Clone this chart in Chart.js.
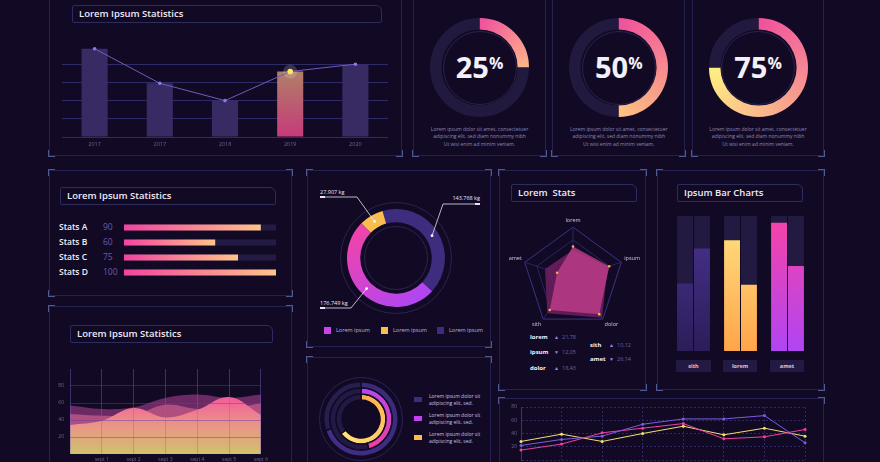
<!DOCTYPE html>
<html lang="en">
<head>
<meta charset="UTF-8">
<script src="https://cdn.jsdelivr.net/npm/chart.js"></script>
<title>Lorem Ipsum Dashboard</title>
<style>
  * { margin: 0; padding: 0; box-sizing: border-box; }
  body { width: 880px; height: 462px; overflow: hidden; position: relative; background: #120a25; font-family: "Open Sans", sans-serif; color: #ece9f7; }
  .panel { position: absolute; border: 1px solid #25214e; }
  .panel i { position: absolute; width: 7px; height: 7px; border: 0 solid #4e5b92; }
  .panel i.a { left: -2px; top: -2px; border-left-width: 1.5px; border-top-width: 1.5px; }
  .panel i.b { right: -2px; top: -2px; border-right-width: 1.5px; border-top-width: 1.5px; }
  .panel i.c { left: -2px; bottom: -2px; border-left-width: 1.5px; border-bottom-width: 1.5px; }
  .panel i.d { right: -2px; bottom: -2px; border-right-width: 1.5px; border-bottom-width: 1.5px; }
  .title { position: absolute; height: 18px; border: 1px solid #2e2b5e; border-radius: 2px 6px 2px 2px; font-size: 9.5px; font-weight: 600; line-height: 16px; padding-left: 6px; white-space: pre; color: #eeebf8; }
  .pct { position: absolute; width: 100px; text-align: center; font-size: 29px; font-weight: 700; line-height: 40px; color: #f2f0f8; }
  .pct span { font-size: 16px; position: relative; top: -9px; }
  .desc { position: absolute; width: 120px; text-align: center; font-size: 5px; line-height: 7.5px; color: #8f87b6; }
  .ring { position: absolute; border-radius: 50%; border: 1px solid #29234f; }
  .name { position: absolute; font-size: 8.5px; font-weight: 600; line-height: 12px; color: #f0eef8; }
  .num { position: absolute; font-size: 8.5px; line-height: 12px; color: #6a5ca8; }
  .sq { position: absolute; width: 7px; height: 7px; }
  .lab { position: absolute; font-size: 5.5px; line-height: 7px; color: #bcb4dc; white-space: nowrap; }
  .kg { position: absolute; font-size: 5.5px; line-height: 7px; color: #ebe8f5; white-space: nowrap; }
  .rs { position: absolute; font-size: 6px; line-height: 8px; white-space: nowrap; }
  .rs b { color: #f2f0f8; font-weight: 700; }
  .rs em { font-style: normal; color: #9d86ec; font-size: 5px; }
  .rs span { color: #6d60a8; font-size: 5.5px; }
  .cat { position: absolute; height: 12px; background: #221a42; font-size: 5.5px; font-weight: 700; line-height: 12px; text-align: center; color: #d0cae6; }
</style>
</head>
<body>
  <!-- panels -->
  <div class="panel" style="left:49px;top:-10px;width:353px;height:166px"></div>
  <div class="panel" style="left:413px;top:-10px;width:133px;height:166px"></div>
  <div class="panel" style="left:552px;top:-10px;width:133px;height:166px"></div>
  <div class="panel" style="left:692px;top:-10px;width:132px;height:166px"></div>
  <div class="panel" style="left:49px;top:170px;width:243px;height:126px"></div>
  <div class="panel" style="left:307px;top:170px;width:184px;height:177px"></div>
  <div class="panel" style="left:499px;top:170px;width:147px;height:220px"></div>
  <div class="panel" style="left:657px;top:170px;width:167px;height:220px"></div>
  <div class="panel" style="left:49px;top:306px;width:243px;height:170px"></div>
  <div class="panel" style="left:307px;top:357px;width:184px;height:120px"></div>
  <div class="panel" style="left:499px;top:398px;width:325px;height:80px"></div>

  <div class="title" style="left:72px;top:5px;width:310px">Lorem Ipsum Statistics</div>
  <div class="title" style="left:60px;top:187px;width:216px">Lorem Ipsum Statistics</div>
  <div class="title" style="left:511px;top:184px;width:126px">Lorem  Stats</div>
  <div class="title" style="left:677px;top:184px;width:126px">Ipsum Bar Charts</div>
  <div class="title" style="left:70px;top:325px;width:203px">Lorem Ipsum Statistics</div>

  <!-- gauges -->
  <div class="ring" style="left:442.5px;top:30.5px;width:74px;height:74px"></div>
  <div class="ring" style="left:581.8px;top:30.5px;width:74px;height:74px"></div>
  <div class="ring" style="left:721px;top:30.5px;width:74px;height:74px"></div>
  <div class="pct" style="left:429.5px;top:47px">25<span>%</span></div>
  <div class="pct" style="left:568.8px;top:47px">50<span>%</span></div>
  <div class="pct" style="left:708px;top:47px">75<span>%</span></div>
  <div class="desc" style="left:419.5px;top:125.5px">Lorem ipsum dolor sit amet, consectetuer<br>adipiscing elit, sed diam nonummy nibh<br>Ut wisi enim ad minim veniam.</div>
  <div class="desc" style="left:558.8px;top:125.5px">Lorem ipsum dolor sit amet, consectetuer<br>adipiscing elit, sed diam nonummy nibh<br>Ut wisi enim ad minim veniam.</div>
  <div class="desc" style="left:698px;top:125.5px">Lorem ipsum dolor sit amet, consectetuer<br>adipiscing elit, sed diam nonummy nibh<br>Ut wisi enim ad minim veniam.</div>

  <!-- stats rows -->
  <div class="name" style="left:59px;top:221px">Stats A</div><div class="num" style="left:103px;top:221px">90</div>
  <div class="name" style="left:59px;top:236px">Stats B</div><div class="num" style="left:103px;top:236px">60</div>
  <div class="name" style="left:59px;top:251px">Stats C</div><div class="num" style="left:103px;top:251px">75</div>
  <div class="name" style="left:59px;top:266px">Stats D</div><div class="num" style="left:103px;top:266px">100</div>

  <!-- donut -->
  <div class="ring" style="left:340px;top:202px;width:112px;height:112px"></div>
  <div class="ring" style="left:364px;top:226px;width:64px;height:64px"></div>
  <div class="kg" style="left:320px;top:188.5px">27.907 kg</div>
  <div class="kg" style="right:400px;top:194.5px">143.768 kg</div>
  <div class="kg" style="left:320px;top:299.5px">176.749 kg</div>
  <div class="sq" style="left:324px;top:327px;background:#c843e8"></div><div class="lab" style="left:336px;top:327px">Lorem ipsum</div>
  <div class="sq" style="left:381px;top:327px;background:#fbbd4e"></div><div class="lab" style="left:393px;top:327px">Lorem ipsum</div>
  <div class="sq" style="left:437px;top:327px;background:#3e2c7e"></div><div class="lab" style="left:449px;top:327px">Lorem ipsum</div>

  <!-- radar stats -->
  <div class="rs" style="left:530px;top:333px"><b>lorem</b></div><div class="rs" style="left:554px;top:333px"><em>&#9650;</em></div><div class="rs" style="left:562px;top:333px"><span>21,78</span></div>
  <div class="rs" style="left:530px;top:348px"><b>ipsum</b></div><div class="rs" style="left:554px;top:348px"><em>&#9660;</em></div><div class="rs" style="left:562px;top:348px"><span>12,05</span></div>
  <div class="rs" style="left:530px;top:364px"><b>dolor</b></div><div class="rs" style="left:554px;top:364px"><em>&#9650;</em></div><div class="rs" style="left:562px;top:364px"><span>18,43</span></div>
  <div class="rs" style="left:590px;top:341px"><b>sith</b></div><div class="rs" style="left:609px;top:341px"><em>&#9650;</em></div><div class="rs" style="left:617px;top:341px"><span>10,12</span></div>
  <div class="rs" style="left:590px;top:355px"><b>amet</b></div><div class="rs" style="left:609px;top:355px"><em>&#9660;</em></div><div class="rs" style="left:617px;top:355px"><span>26,14</span></div>

  <!-- bar chart category boxes -->
  <div class="cat" style="left:676px;top:360px;width:35px">sith</div>
  <div class="cat" style="left:723px;top:360px;width:34px">lorem</div>
  <div class="cat" style="left:770px;top:360px;width:34px">amet</div>

  <!-- rings legend -->
  <div class="ring" style="left:319px;top:377px;width:84px;height:84px"></div>
  <div class="sq" style="left:414px;top:397px;width:8px;height:5px;background:#3d2c80"></div>
  <div class="lab" style="left:429px;top:392.5px;font-size:5px;color:#c8c0e0">Lorem ipsum dolor sit<br>adipiscing elit, sed.</div>
  <div class="sq" style="left:414px;top:416px;width:8px;height:5px;background:#c042f0"></div>
  <div class="lab" style="left:429px;top:411.5px;font-size:5px;color:#c8c0e0">Lorem ipsum dolor sit<br>adipiscing elit, sed.</div>
  <div class="sq" style="left:414px;top:435px;width:8px;height:5px;background:#ffb84a"></div>
  <div class="lab" style="left:429px;top:430.5px;font-size:5px;color:#c8c0e0">Lorem ipsum dolor sit<br>adipiscing elit, sed.</div>

<script>
  // ---- data ----
  const yearLabels = ['2017', '2017', '2018', '2019', '2020'];
  const yearValues = [97, 59, 40, 72, 80];
  const highlightYear = 3;

  const gaugeValues = [25, 50, 75];
  const gaugeRest = [75, 50, 25];

  const statsLabels = ['Stats A', 'Stats B', 'Stats C', 'Stats D'];
  const statsValues = [90, 60, 75, 100];
  const statsMax = [100, 100, 100, 100];

  const donutLabels = ['Lorem ipsum', 'Lorem ipsum', 'Lorem ipsum'];
  const donutValues = [143.768, 176.749, 27.907];

  const radarLabels = ['lorem', 'ipsum', 'dolor', 'sith', 'amet'];
  const radarMain = [62, 75, 88, 78, 33];
  const radarBack = [55, 72, 97, 86, 58];

  const barLabels = ['sith', 'lorem', 'amet'];
  const barSeriesA = [50, 82, 95];
  const barSeriesB = [76, 49, 63];
  const barMax = [100, 100, 100];

  const areaLabels = ['', 'sept 1', 'sept 2', 'sept 3', 'sept 4', 'sept 5', 'sept 6'];
  const areaFront = [34, 39, 54, 43, 52, 67, 46];
  const areaMiddle = [47, 45, 46, 58, 53, 53, 60];
  const areaBack = [57, 53, 55, 66, 70, 66, 70];

  const ringValues = [70, 46, 65];
  const ringRest = [30, 54, 35];

  const lineLabels = ['1', '2', '3', '4', '5', '6', '7', '8'];
  const lineYellow = [28, 39, 28, 40, 51, 38, 48, 36];
  const linePurple = [22, 31, 36, 54, 62, 62, 67, 26];
  const linePink = [15, 24, 41, 48, 55, 32, 35, 46];

  // ---- setup ----
  Chart.defaults.font.family = "'Open Sans', sans-serif";
  Chart.defaults.color = '#6c6494';
  Chart.defaults.animation = false;
  Chart.defaults.maintainAspectRatio = false;
  Chart.defaults.layout.autoPadding = false;
  Chart.defaults.plugins.legend.display = false;
  Chart.defaults.plugins.tooltip.enabled = false;

  document.querySelectorAll('.panel').forEach(p => {
    p.innerHTML = '<i class="a"></i><i class="b"></i><i class="c"></i><i class="d"></i>';
  });

  function place(x, y, w, h) {
    const d = document.createElement('div');
    d.style.cssText = 'position:absolute;left:' + x + 'px;top:' + y + 'px;width:' + w + 'px;height:' + h + 'px';
    const c = document.createElement('canvas');
    d.appendChild(c);
    document.body.appendChild(d);
    return c;
  }

  function conic(chart, stops) {
    const a = chart.chartArea;
    const g = chart.ctx.createConicGradient(-Math.PI / 2, (a.left + a.right) / 2, (a.top + a.bottom) / 2);
    stops.forEach(s => g.addColorStop(s[0], s[1]));
    return g;
  }

  // top bar + line chart
  new Chart(place(62, 46, 326, 104), {
    type: 'bar',
    data: {
      labels: yearLabels,
      datasets: [
        {
          type: 'line', data: yearValues, borderColor: '#6e5cbe', borderWidth: 1,
          pointRadius: yearValues.map((v, i) => i === highlightYear ? 2.8 : 1.8),
          pointBackgroundColor: yearValues.map((v, i) => i === highlightYear ? '#ffe75e' : '#8f78e8'),
          pointBorderWidth: 0
        },
        {
          type: 'line', data: yearValues.map((v, i) => i === highlightYear ? v : null), showLine: false,
          pointRadius: 7, pointBackgroundColor: 'rgba(255,255,255,0.16)', pointBorderWidth: 0
        },
        {
          data: yearValues, categoryPercentage: 0.4, barPercentage: 1,
          backgroundColor: c => {
            if (c.dataIndex !== highlightYear) return '#382b64';
            const ch = c.chart;
            if (!ch.chartArea) return '#c03c7c';
            const top = ch.scales.y.getPixelForValue(c.raw);
            const g = ch.ctx.createLinearGradient(0, top, 0, ch.chartArea.bottom);
            g.addColorStop(0, '#b07f68');
            g.addColorStop(1, '#c63a7a');
            return g;
          }
        }
      ]
    },
    options: {
      scales: {
        x: {
          grid: { display: false, drawTicks: false }, border: { display: false },
          ticks: { font: { size: 5.5 }, color: '#6a6392', padding: 4 },
          afterFit: s => { s.height = 13; }
        },
        y: {
          min: 0, max: 100, ticks: { display: false, stepSize: 20 },
          grid: { drawTicks: false, color: c => c.tick.value === 100 ? 'transparent' : '#2f2a68' },
          border: { display: false },
          afterFit: s => { s.width = 0; }
        }
      }
    }
  });

  // gauges
  const gaugeCenters = [479.5, 618.8, 758];
  const gaugeEnds = ['#fdb68a', '#fdc381', '#fff082'];
  gaugeValues.forEach((v, i) => {
    new Chart(place(gaugeCenters[i] - 49.5, 18, 99, 99), {
      type: 'doughnut',
      data: {
        labels: ['value', 'rest'],
        datasets: [{
          data: [v, gaugeRest[i]], borderWidth: 0,
          backgroundColor: c => {
            if (c.dataIndex === 1) return '#22193f';
            if (!c.chart.chartArea) return '#f0509c';
            return conic(c.chart, [[0, '#f0509c'], [v / 100, gaugeEnds[i]], [1, gaugeEnds[i]]]);
          }
        }]
      },
      options: { cutout: '77%' }
    });
  });

  // stats horizontal bars, value and track share a stack slot
  new Chart(place(124, 220, 152, 60), {
    type: 'bar',
    data: {
      labels: statsLabels,
      datasets: [
        {
          data: statsValues, stack: 's', categoryPercentage: 0.4, barPercentage: 1,
          backgroundColor: c => {
            const ch = c.chart;
            if (!ch.chartArea) return '#f0449e';
            const x0 = ch.scales.x.getPixelForValue(0), x1 = ch.scales.x.getPixelForValue(c.raw);
            const g = ch.ctx.createLinearGradient(x0, 0, x1, 0);
            g.addColorStop(0, '#f2449f');
            g.addColorStop(1, '#fec489');
            return g;
          }
        },
        { data: statsMax, stack: 's', categoryPercentage: 0.4, barPercentage: 1, backgroundColor: '#241b44' }
      ]
    },
    options: {
      indexAxis: 'y',
      scales: {
        x: { display: false, min: 0, max: 100, stacked: false },
        y: { display: false }
      }
    }
  });

  // donut with leader lines
  const donutLeaders = [[443, 204, 480], [351, 308, 320], [357, 197, 320]];
  const donutBox = [308, 185];
  const leaderPlugin = {
    id: 'leaders',
    afterDatasetsDraw(chart) {
      const ctx = chart.ctx;
      ctx.save();
      chart.getDatasetMeta(0).data.forEach((arc, i) => {
        const p = arc.getProps(['x', 'y', 'startAngle', 'endAngle', 'innerRadius', 'outerRadius'], true);
        const a = (p.startAngle + p.endAngle) / 2, r = (p.innerRadius + p.outerRadius) / 2;
        const ax = p.x + Math.cos(a) * r, ay = p.y + Math.sin(a) * r;
        const ex = donutLeaders[i][0] - donutBox[0], ey = donutLeaders[i][1] - donutBox[1];
        const tx = donutLeaders[i][2] - donutBox[0];
        ctx.strokeStyle = '#e6e3f2';
        ctx.lineWidth = 0.8;
        ctx.beginPath();
        ctx.moveTo(ax, ay); ctx.lineTo(ex, ey); ctx.lineTo(tx, ey);
        ctx.stroke();
        ctx.lineWidth = 2;
        ctx.beginPath();
        ctx.moveTo(tx, ey); ctx.lineTo(tx + (tx < ex ? 5 : -5), ey);
        ctx.stroke();
        ctx.fillStyle = '#ffffff';
        ctx.beginPath(); ctx.arc(ax, ay, 1.4, 0, Math.PI * 2); ctx.fill();
      });
      ctx.restore();
    }
  };
  new Chart(place(donutBox[0], donutBox[1], 176, 146), {
    type: 'doughnut',
    data: {
      labels: donutLabels,
      datasets: [{
        data: donutValues, borderWidth: 0,
        backgroundColor: c => {
          if (c.dataIndex === 0) return '#3e2c7e';
          if (c.dataIndex === 2) return '#fbbd4e';
          const a = c.chart.chartArea;
          if (!a) return '#d040e0';
          const g = c.chart.ctx.createLinearGradient(a.left, a.top + 20, a.left + 60, a.bottom);
          g.addColorStop(0, '#f543a6');
          g.addColorStop(1, '#b146f2');
          return g;
        }
      }]
    },
    options: { cutout: '73%', rotation: -16, layout: { padding: { left: 39, right: 39, top: 24, bottom: 24 } } },
    plugins: [leaderPlugin]
  });

  // radar
  new Chart(place(508, 212, 134, 124), {
    type: 'radar',
    data: {
      labels: radarLabels,
      datasets: [
        {
          data: radarMain, backgroundColor: 'rgba(196, 62, 140, 0.78)', borderWidth: 0,
          pointRadius: 1.3, pointBackgroundColor: '#f2ae5a', pointBorderWidth: 0
        },
        { data: radarBack, backgroundColor: 'rgba(110, 32, 96, 0.85)', borderWidth: 0, pointRadius: 0 }
      ]
    },
    options: {
      scales: {
        r: {
          min: 0, max: 100,
          ticks: { display: false, stepSize: 25 },
          grid: { color: c => c.index === 4 ? '#3a3285' : '#2a2462' },
          angleLines: { color: '#2a2462' },
          pointLabels: { font: { size: 5.5 }, color: '#cfc8e6', padding: 3 }
        }
      }
    }
  });

  // grouped bars with tracks: each value shares a stack slot with its track
  const barColors = [['#4a3392', '#2c1d58'], ['#ffe283', '#ffa549'], ['#f743a6', '#b045f3']];
  function barFill(c) {
    const a = c.chart.chartArea;
    if (!a) return barColors[c.dataIndex][1];
    const g = c.chart.ctx.createLinearGradient(0, a.top, 0, a.bottom);
    g.addColorStop(0, barColors[c.dataIndex][0]);
    g.addColorStop(1, barColors[c.dataIndex][1]);
    return g;
  }
  const barOpts = { categoryPercentage: 0.72, barPercentage: 0.94 };
  new Chart(place(670, 216, 141, 135), {
    type: 'bar',
    data: {
      labels: barLabels,
      datasets: [
        Object.assign({ data: barSeriesA, stack: 'a', backgroundColor: barFill }, barOpts),
        Object.assign({ data: barSeriesB, stack: 'b', backgroundColor: barFill }, barOpts),
        Object.assign({ data: barMax, stack: 'a', backgroundColor: '#221a40' }, barOpts),
        Object.assign({ data: barMax, stack: 'b', backgroundColor: '#221a40' }, barOpts)
      ]
    },
    options: {
      scales: {
        x: { display: false },
        y: { display: false, min: 0, max: 100, stacked: false }
      }
    }
  });

  // area chart
  new Chart(place(56, 360, 215, 110), {
    type: 'line',
    data: {
      labels: areaLabels,
      datasets: [
        {
          data: areaFront, fill: 'origin', borderWidth: 0, pointRadius: 0, tension: 0.4,
          backgroundColor: c => {
            const a = c.chart.chartArea;
            if (!a) return '#ee8a8c';
            const g = c.chart.ctx.createLinearGradient(0, a.top + 26, 0, a.bottom);
            g.addColorStop(0, '#f4589e');
            g.addColorStop(0.5, '#eb9388');
            g.addColorStop(1, '#cfc26c');
            return g;
          }
        },
        { data: areaMiddle, fill: 'origin', borderWidth: 0, pointRadius: 0, tension: 0.4, backgroundColor: '#b04e80' },
        { data: areaBack, fill: 'origin', borderWidth: 0, pointRadius: 0, tension: 0.4, backgroundColor: '#6c2a64' }
      ]
    },
    options: {
      layout: { padding: { top: 4, right: 5 } },
      scales: {
        x: {
          offset: false,
          grid: { z: 1, color: 'rgba(120, 105, 215, 0.4)', drawTicks: false },
          border: { display: false },
          ticks: { font: { size: 5 }, color: '#6c6494', padding: 3, maxRotation: 0, autoSkip: false },
          afterFit: s => { s.height = 16; }
        },
        y: {
          min: 0, max: 100,
          grid: { z: 1, drawTicks: false, color: c => (c.tick.value === 0 || c.tick.value === 100) ? 'transparent' : 'rgba(85, 65, 170, 0.45)' },
          border: { display: false },
          ticks: {
            stepSize: 20, font: { size: 5 }, color: '#6c6494', padding: 6,
            callback: v => (v === 0 || v === 100) ? '' : v
          },
          afterFit: s => { s.width = 14; }
        }
      }
    }
  });

  // concentric rings
  const ringTracks = ['#271e4e', '#221a44', '#221a44'];
  const ringStops = [
    [[0, '#3a2a78'], [1, '#43318c']],
    [[0, '#b046f2'], [0.46, '#f2409e'], [1, '#f2409e']],
    [[0, '#ffae4a'], [0.65, '#ffe477'], [1, '#ffe477']]
  ];
  new Chart(place(323, 381, 76, 76), {
    type: 'doughnut',
    data: {
      labels: ['value', 'rest'],
      datasets: ringValues.map((v, i) => ({
        data: [v, ringRest[i]], borderWidth: 1.5, borderColor: '#120a25',
        backgroundColor: c => {
          if (c.dataIndex === 1) return ringTracks[i];
          if (!c.chart.chartArea) return ringStops[i][0][1];
          return conic(c.chart, ringStops[i]);
        }
      }))
    },
    options: { cutout: '51%' }
  });

  // bottom line chart
  const lineStyle = col => ({ borderColor: col, borderWidth: 1, pointRadius: 1.5, pointBackgroundColor: col, pointBorderWidth: 0, tension: 0 });
  new Chart(place(505, 400, 310, 67), {
    type: 'line',
    data: {
      labels: lineLabels,
      datasets: [
        Object.assign({ data: linePurple }, lineStyle('#7a5ce0')),
        Object.assign({ data: linePink }, lineStyle('#f040a2')),
        Object.assign({ data: lineYellow }, lineStyle('#f2e070'))
      ]
    },
    options: {
      layout: { padding: { top: 7, right: 10 } },
      scales: {
        x: {
          offset: false,
          grid: { color: '#2e2a62', drawTicks: false },
          border: { display: false, dash: [2, 2] },
          ticks: { display: false },
          afterFit: s => { s.height = 0; }
        },
        y: {
          min: 0, max: 80,
          grid: { color: '#2e2a62', drawTicks: false },
          border: { display: true, color: '#3a3472', dash: [2, 2] },
          ticks: { stepSize: 20, font: { size: 5 }, color: '#6c6494', padding: 4, callback: v => v === 0 ? '' : v },
          afterFit: s => { s.width = 16; }
        }
      }
    }
  });
</script>
</body>
</html>
